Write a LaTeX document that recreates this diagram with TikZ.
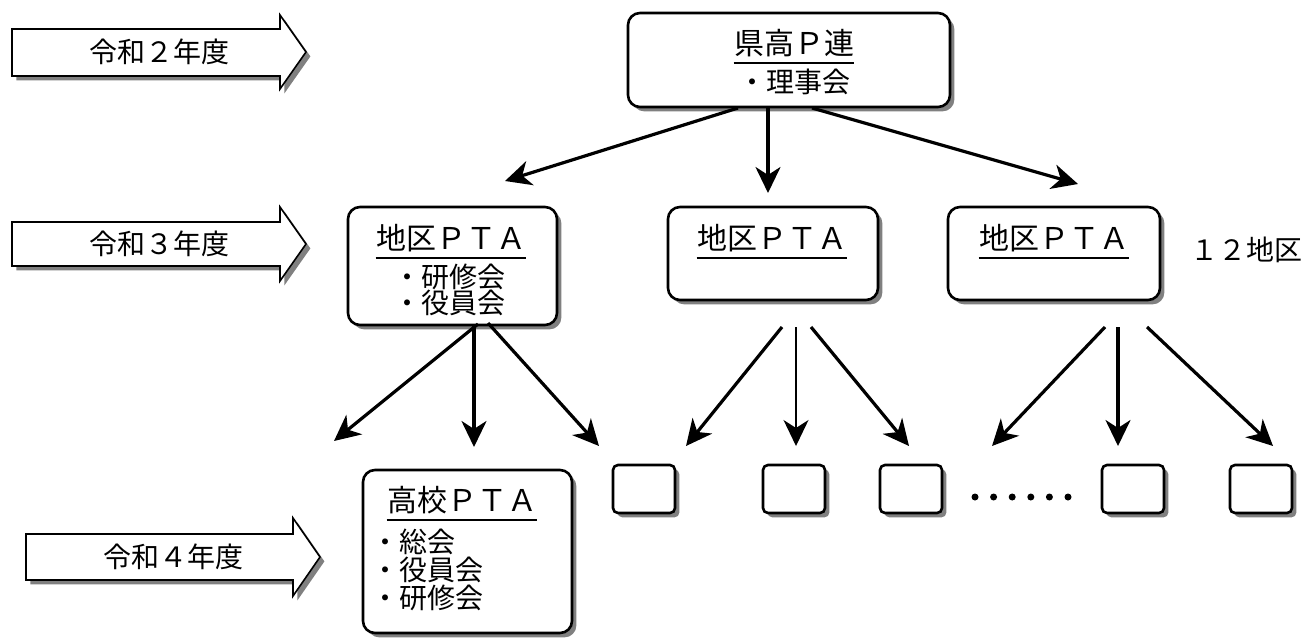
\documentclass[tikz,border=0pt]{standalone}
\usepackage{fontspec}
\setmainfont{Noto Sans CJK JP}
\usetikzlibrary{shadows,arrows.meta}
\begin{document}
\begin{tikzpicture}[x=0.5pt,y=-0.5pt,
  shad/.style={drop shadow={shadow xshift=2.2pt,shadow yshift=-2.2pt,fill=black!50,opacity=1}},
  box/.style={draw=black,line width=1.3pt,fill=white,rounded corners=6pt,shad,inner sep=0pt},
  sbox/.style={box,rounded corners=2.5pt,minimum width=31pt,minimum height=24pt},
  yarrow/.style={draw=black,line width=0.8pt,fill=white,shad},
  lbl/.style={inner sep=0pt,font=\fontsize{14pt}{16pt}\selectfont},
  ttl/.style={inner sep=0pt,font=\fontsize{15pt}{17pt}\selectfont},
  uline/.style={line width=1.1pt},
  conn/.style={line width=1.6pt,-{Stealth[length=13pt,width=12.5pt,inset=4pt]}},
  thinconn/.style={conn,line width=0.7pt},
  dot/.style={circle,fill=black,inner sep=0pt,minimum size=3.5pt},
]
\useasboundingbox (0,0) rectangle (1305,637);

% year arrows
\draw[yarrow] (12,29) -- (280,29) -- (280,15) -- (306,52) -- (280,89) -- (280,76) -- (12,76) -- cycle;
\node[lbl] (y2) at (159,52) {令和２年度};
\draw[yarrow] (12,222) -- (280,222) -- (280,207) -- (306,244) -- (280,281) -- (280,266) -- (12,266) -- cycle;
\node[lbl] (y3) at (159,244) {令和３年度};
\draw[yarrow] (26,534) -- (293,534) -- (293,518) -- (320,557) -- (293,596) -- (293,580) -- (26,580) -- cycle;
\node[lbl] (y4) at (173,557) {令和４年度};

% top box
\node[box,minimum width=161pt,minimum height=47pt] (ken) at (789,60) {};
\node[ttl] (kent) at (794,43) {県高Ｐ連};
\draw[uline] ([yshift=-3pt]kent.south west) -- ([yshift=-3pt]kent.south east);
\node[lbl] (keni) at (794,82) {・理事会};

% district boxes
\node[box,minimum width=104.5pt,minimum height=59pt] (d1) at (452.5,266) {};
\node[ttl] (d1t) at (451,238) {地区ＰＴＡ};
\draw[uline] ([yshift=-3pt]d1t.south west) -- ([yshift=-3pt]d1t.south east);
\node[lbl] (d1a) at (449,277) {・研修会};
\node[lbl] (d1b) at (449,303) {・役員会};

\node[box,minimum width=105pt,minimum height=46.5pt] (d2) at (773,253.5) {};
\node[ttl] (d2t) at (772,238) {地区ＰＴＡ};
\draw[uline] ([yshift=-3pt]d2t.south west) -- ([yshift=-3pt]d2t.south east);

\node[box,minimum width=106pt,minimum height=46.5pt] (d3) at (1054,253.5) {};
\node[ttl] (d3t) at (1054,238) {地区ＰＴＡ};
\draw[uline] ([yshift=-3pt]d3t.south west) -- ([yshift=-3pt]d3t.south east);

\node[lbl] (n12) at (1246,250) {１２地区};

% high school box
\node[box,minimum width=104.5pt,minimum height=81.5pt] (hs) at (467.5,551.5) {};
\node[ttl] (hst) at (462,500) {高校ＰＴＡ};
\draw[uline] ([yshift=-3pt]hst.south west) -- ([yshift=-3pt]hst.south east);
\node[lbl,anchor=west] (hs1) at (371,542) {・総会};
\node[lbl,anchor=west] (hs2) at (371,570) {・役員会};
\node[lbl,anchor=west] (hs3) at (371,598) {・研修会};

% small boxes
\node[sbox] (s1) at (644,489) {};
\node[sbox] (s2) at (794,489) {};
\node[sbox] (s3) at (911,489) {};
\node[sbox] (s4) at (1133,489) {};
\node[sbox] (s5) at (1261,489) {};
\foreach \i in {0,...,5} {\node[dot] (dt\i) at (975+18.6*\i,497) {};}

% connector coordinates
\coordinate (kL) at (738,108); \coordinate (kLe) at (505,181);
\coordinate (kM) at (768,108); \coordinate (kMe) at (768,193);
\coordinate (kR) at (812,108); \coordinate (kRe) at (1078,184);
\draw[conn] (kL) -- (kLe);
\draw[conn] (kM) -- (kMe);
\draw[conn] (kR) -- (kRe);

\coordinate (aL) at (478,324); \coordinate (aLe) at (334,441);
\coordinate (aM) at (474,326); \coordinate (aMe) at (474,447);
\coordinate (aR) at (488,323); \coordinate (aRe) at (599,446);
\draw[conn] (aL) -- (aLe);
\draw[conn] (aM) -- (aMe);
\draw[conn] (aR) -- (aRe);

\coordinate (bL) at (782,327); \coordinate (bLe) at (686,446);
\coordinate (bM) at (796,327); \coordinate (bMe) at (796,446);
\coordinate (bR) at (811,327); \coordinate (bRe) at (909,446);
\draw[conn] (bL) -- (bLe);
\draw[thinconn] (bM) -- (bMe);
\draw[conn] (bR) -- (bRe);

\coordinate (cL) at (1105,327); \coordinate (cLe) at (992,446);
\coordinate (cM) at (1118,327); \coordinate (cMe) at (1118,446);
\coordinate (cR) at (1147,327); \coordinate (cRe) at (1273,446);
\draw[conn] (cL) -- (cLe);
\draw[conn] (cM) -- (cMe);
\draw[conn] (cR) -- (cRe);
\end{tikzpicture}
\end{document}
